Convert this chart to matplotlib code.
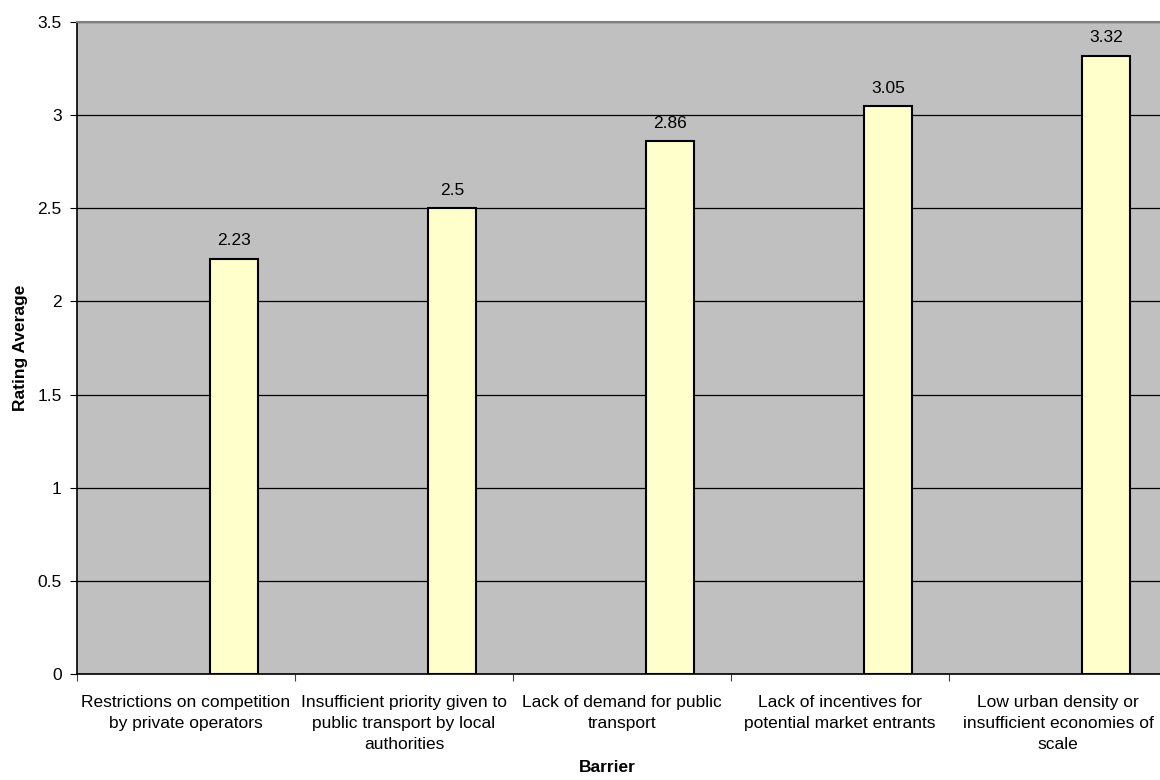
import numpy as np
import matplotlib.pyplot as plt

plt.rcParams['font.family'] = ['Liberation Sans', 'DejaVu Sans']

barriers = [
    "Restrictions on competition\nby private operators",
    "Insufficient priority given to\npublic transport by local\nauthorities",
    "Lack of demand for public\ntransport",
    "Lack of incentives for\npotential market entrants",
    "Low urban density or\ninsufficient economies of\nscale",
]
rating_avg = [2.23, 2.5, 2.86, 3.05, 3.32]
value_labels = ["2.23", "2.5", "2.86", "3.05", "3.32"]

fs = 12.5

fig = plt.figure(figsize=(11.6, 7.8), dpi=100)
# plot area runs a little past the right edge of the figure
ax = fig.add_axes([0.0664, 0.1359, 0.9397, 0.8359])
ax.set_facecolor('#C0C0C0')

x = np.arange(len(barriers))
bw = 0.22
ax.bar(x + 0.11, rating_avg, width=bw, align='edge', color='#FFFFCC',
       edgecolor='black', linewidth=1.5, zorder=3)
for xi, v, s in zip(x, rating_avg, value_labels):
    ax.text(xi + 0.11 + bw / 2, v + 0.055, s, ha='center', va='bottom',
            fontsize=fs, zorder=4)

ax.set_xlim(-0.5, len(barriers) - 0.5)
ax.set_ylim(0, 3.5)
ax.set_yticks(np.arange(0, 3.51, 0.5))
ax.set_yticklabels(['0', '0.5', '1', '1.5', '2', '2.5', '3', '3.5'])
ax.yaxis.grid(True, color='black', linewidth=0.9, zorder=1)
ax.set_axisbelow(True)

# category boundaries carry the tick marks, names sit in between
ax.set_xticks(np.arange(len(barriers)) - 0.5)
ax.set_xticklabels([])
ax.set_xticks(x, minor=True)
ax.set_xticklabels(barriers, minor=True, fontsize=fs, linespacing=1.5)
ax.tick_params(axis='x', which='minor', length=0, pad=15)
ax.tick_params(axis='x', which='major', length=5, color='#404040')
ax.tick_params(axis='y', length=5, labelsize=fs, pad=6)

ax.spines['top'].set_color('#808080')
ax.spines['top'].set_linewidth(1.5)
ax.spines['right'].set_visible(False)
ax.spines['left'].set_linewidth(1.2)
ax.spines['bottom'].set_linewidth(1.2)

ax.set_ylabel('Rating Average', fontsize=fs, fontweight='bold', labelpad=7)
fig.text(0.5235, 0.0165, 'Barrier', ha='center', va='center',
         fontsize=fs, fontweight='bold')

fig.savefig('out.png', dpi=100)
